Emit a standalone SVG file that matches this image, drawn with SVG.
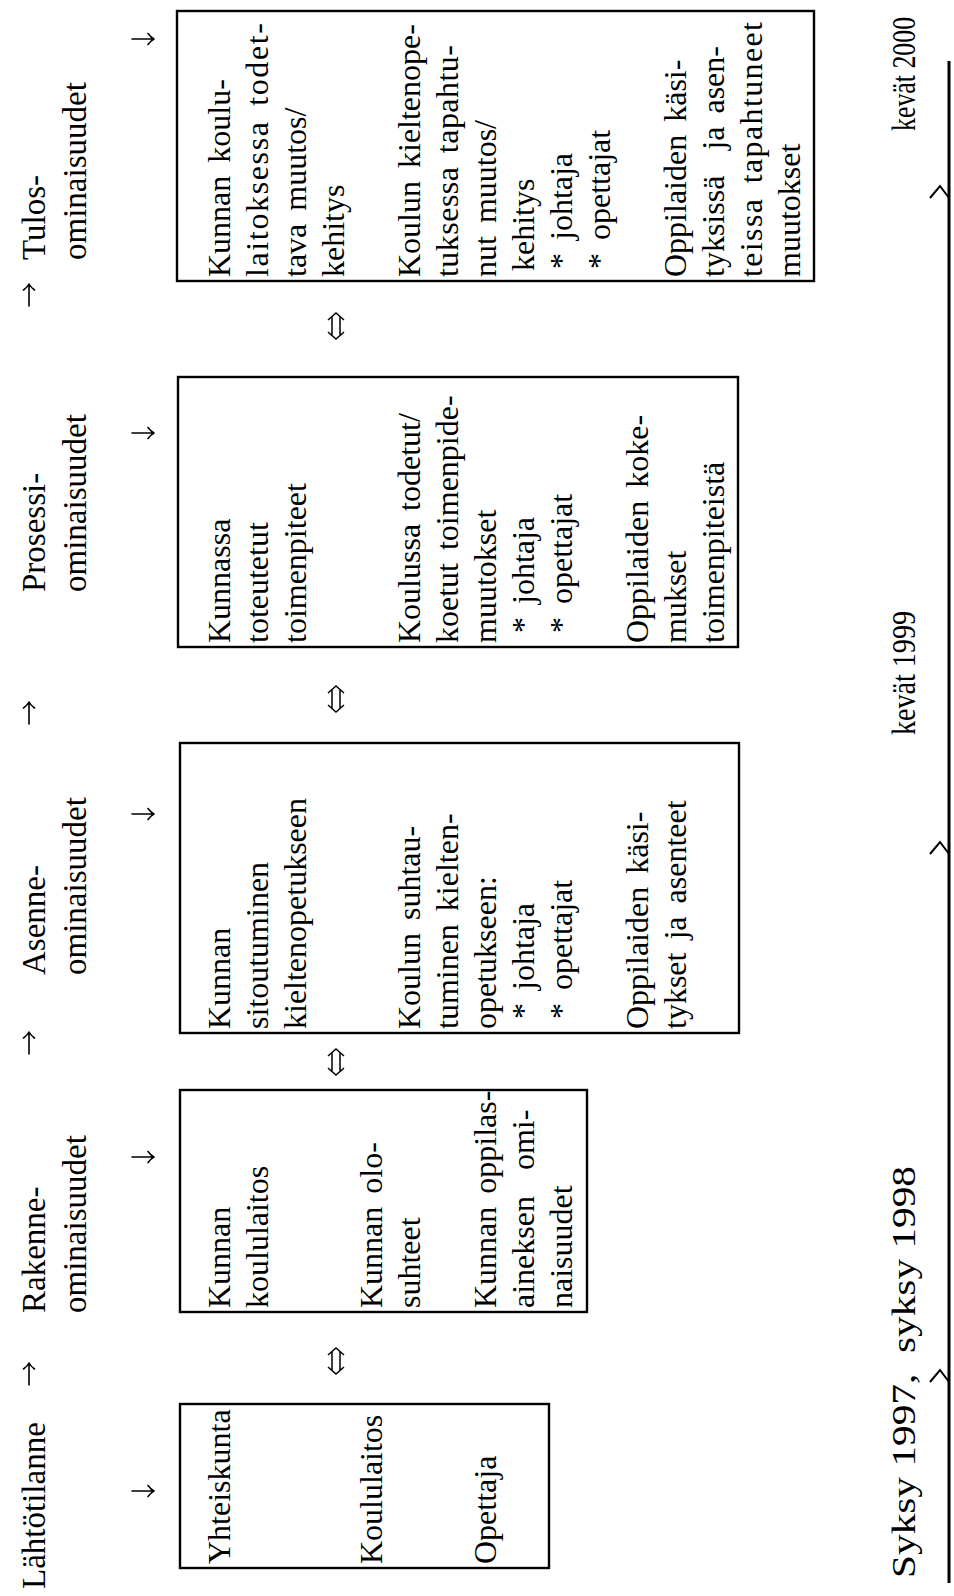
<svg xmlns="http://www.w3.org/2000/svg" width="954" height="1596" viewBox="0 0 954 1596">
  <style>
    .t { font-family: "Liberation Serif", "Times New Roman", serif; font-size: 32px; word-spacing: 5px; fill: #000; }
    .h { font-family: "Liberation Serif", "Times New Roman", serif; font-size: 33px; fill: #000; }
    .lbl { font-family: "Liberation Serif", "Times New Roman", serif; font-size: 34px; fill: #000; }
    .box { fill: none; stroke: #000; stroke-width: 2.4; }
    .arw { fill: none; stroke: #000; stroke-width: 1.6; stroke-linecap: round; stroke-linejoin: round; }
    .dbl { fill: none; stroke: #000; stroke-width: 1.5; stroke-linejoin: miter; }
    .axis { fill: none; stroke: #000; stroke-width: 3; }
    .tick { fill: none; stroke: #000; stroke-width: 2; stroke-linejoin: miter; }
  </style>
  <defs>
    <!-- single arrow pointing along +x, centred on the origin -->
    <path id="a-right" d="M-11,0 H11 M5,-5.5 Q8,-1.5 11,0 Q8,1.5 5,5.5"/>
    <!-- single arrow pointing along +y, centred on the origin -->
    <path id="a-down" d="M0,-11 V11 M-5.5,5 Q-1.5,8 0,11 Q1.5,8 5.5,5"/>
    <!-- hollow double-headed arrow, horizontal, centred on the origin -->
    <path id="a-both" d="M-6,-8 L-13,0 L-6,8 M6,-8 L13,0 L6,8 M-9.5,-4 H9.5 M-9.5,4 H9.5"/>
  </defs>
  <rect width="954" height="1596" fill="#fff"/>

  <!-- the whole page is laid out in landscape and turned a quarter turn -->
  <g transform="translate(0,1596) rotate(-90)">

    <!-- column headings -->
    <g id="head-lahto">
      <text class="h" x="7" y="45">Lähtötilanne</text>
    </g>
    <g id="head-rakenne">
      <text class="h" x="283" y="45">Rakenne-</text>
      <text class="h" x="283" y="86">ominaisuudet</text>
    </g>
    <g id="head-asenne">
      <text class="h" x="621" y="45">Asenne-</text>
      <text class="h" x="621" y="86">ominaisuudet</text>
    </g>
    <g id="head-prosessi">
      <text class="h" x="1004" y="45">Prosessi-</text>
      <text class="h" x="1004" y="86">ominaisuudet</text>
    </g>
    <g id="head-tulos">
      <text class="h" x="1336" y="45">Tulos-</text>
      <text class="h" x="1336" y="86">ominaisuudet</text>
    </g>

    <!-- boxes -->
    <g id="box-lahto">
      <rect class="box" x="28" y="180" width="164" height="369"/>
      <text class="t" x="32" y="230">Yhteiskunta</text>
      <text class="t" x="32" y="382">Koululaitos</text>
      <text class="t" x="32" y="496">Opettaja</text>
    </g>
    <g id="box-rakenne">
      <rect class="box" x="284" y="180" width="222" height="407"/>
      <text class="t" x="288" y="230">Kunnan</text>
      <text class="t" x="288" y="268">koululaitos</text>
      <text class="t" x="288" y="382">Kunnan olo-</text>
      <text class="t" x="288" y="420">suhteet</text>
      <text class="t" x="288" y="496">Kunnan oppilas-</text>
      <text class="t" x="288" y="534" xml:space="preserve">aineksen  omi-</text>
      <text class="t" x="288" y="572">naisuudet</text>
    </g>
    <g id="box-asenne">
      <rect class="box" x="563" y="180" width="290" height="559"/>
      <text class="t" x="567" y="230">Kunnan</text>
      <text class="t" x="567" y="268">sitoutuminen</text>
      <text class="t" x="567" y="306">kieltenopetukseen</text>
      <text class="t" x="567" y="420">Koulun suhtau-</text>
      <text class="t" x="567" y="458">tuminen kielten-</text>
      <text class="t" x="567" y="496">opetukseen:</text>
      <text class="t" x="577" y="534">* johtaja</text>
      <text class="t" x="577" y="572">* opettajat</text>
      <text class="t" x="567" y="648">Oppilaiden käsi-</text>
      <text class="t" x="567" y="686">tykset ja asenteet</text>
    </g>
    <g id="box-prosessi">
      <rect class="box" x="949" y="178" width="270" height="560"/>
      <text class="t" x="953" y="230">Kunnassa</text>
      <text class="t" x="953" y="268">toteutetut</text>
      <text class="t" x="953" y="306">toimenpiteet</text>
      <text class="t" x="953" y="420">Koulussa todetut/</text>
      <text class="t" x="953" y="458">koetut toimenpide-</text>
      <text class="t" x="953" y="496">muutokset</text>
      <text class="t" x="963" y="534">* johtaja</text>
      <text class="t" x="963" y="572">* opettajat</text>
      <text class="t" x="953" y="648">Oppilaiden koke-</text>
      <text class="t" x="953" y="686">mukset</text>
      <text class="t" x="953" y="724">toimenpiteistä</text>
    </g>
    <g id="box-tulos">
      <rect class="box" x="1315" y="177" width="270" height="637"/>
      <text class="t" x="1319" y="230">Kunnan koulu-</text>
      <text class="t" x="1319" y="268" textLength="254" lengthAdjust="spacing">laitoksessa todet-</text>
      <text class="t" x="1319" y="306">tava muutos/</text>
      <text class="t" x="1319" y="344">kehitys</text>
      <text class="t" x="1319" y="420">Koulun kieltenope-</text>
      <text class="t" x="1319" y="458" textLength="232" lengthAdjust="spacing">tuksessa tapahtu-</text>
      <text class="t" x="1319" y="496">nut muutos/</text>
      <text class="t" x="1325" y="534">kehitys</text>
      <text class="t" x="1327" y="572">* johtaja</text>
      <text class="t" x="1327" y="610">* opettajat</text>
      <text class="t" x="1319" y="686">Oppilaiden käsi-</text>
      <text class="t" x="1319" y="724" xml:space="preserve">tyksissä  ja asen-</text>
      <text class="t" x="1319" y="762" textLength="255" lengthAdjust="spacing">teissa tapahtuneet</text>
      <text class="t" x="1319" y="800">muutokset</text>
    </g>

    <!-- connectors -->
    <g id="connectors">
      <!-- heading to heading -->
      <use href="#a-right" class="arw" x="222" y="29"/>
      <use href="#a-right" class="arw" x="553" y="29"/>
      <use href="#a-right" class="arw" x="883" y="29"/>
      <use href="#a-right" class="arw" x="1301" y="29"/>
      <!-- heading to box -->
      <use href="#a-down" class="arw" x="105" y="143"/>
      <use href="#a-down" class="arw" x="439" y="143"/>
      <use href="#a-down" class="arw" x="782" y="143"/>
      <use href="#a-down" class="arw" x="1163" y="143"/>
      <use href="#a-down" class="arw" x="1557" y="143"/>
      <!-- box to box -->
      <use href="#a-both" class="dbl" x="235" y="336"/>
      <use href="#a-both" class="dbl" x="534" y="336"/>
      <use href="#a-both" class="dbl" x="897" y="336"/>
      <use href="#a-both" class="dbl" x="1270" y="336"/>
    </g>

    <!-- time axis -->
    <g id="timeline">
      <line class="axis" x1="13" y1="949" x2="1535" y2="949"/>
      <path class="tick" d="M214,930 L226,940 L214,949"/>
      <path class="tick" d="M742,930 L754,940 L742,949"/>
      <path class="tick" d="M1398,930 L1410,940 L1398,949"/>
      <!-- labels are set condensed or expanded along the axis -->
      <text class="lbl" transform="translate(18,915) scale(1.215,1)" xml:space="preserve">Syksy 1997,  syksy 1998</text>
      <text class="lbl" transform="translate(861,915) scale(0.826,1)">kevät 1999</text>
      <text class="lbl" transform="translate(1465,915) scale(0.76,1)">kevät 2000</text>
    </g>
  </g>
</svg>
